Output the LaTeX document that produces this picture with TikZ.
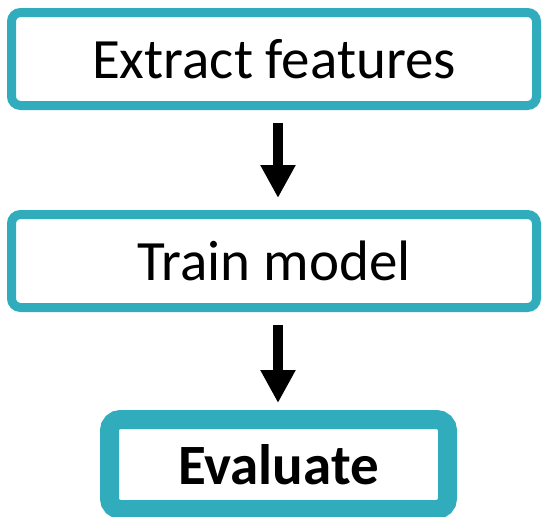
\documentclass[tikz,border=0pt]{standalone}
\usepackage{fontspec}
\setmainfont{Carlito}
\usetikzlibrary{positioning,arrows.meta}
\definecolor{boxteal}{RGB}{49,172,189}

\begin{document}
\begin{tikzpicture}[x=1pt,y=1pt,node distance=109pt,font=\fontsize{57}{68}\selectfont]
    \tikzstyle{stage}=[draw=boxteal,line width=9pt,rounded corners=9pt,minimum width=525pt,minimum height=93pt,inner sep=0pt,outer sep=0pt]
    \tikzstyle{laststage}=[draw=boxteal,line width=19pt,rounded corners=11pt,minimum width=338pt,minimum height=90pt,inner sep=0pt,outer sep=0pt,font=\fontsize{57}{68}\selectfont\bfseries]
    \tikzstyle{flow}=[-{Triangle[length=33pt,width=33pt]},line width=10pt,shorten <=17.5pt,shorten >=16.5pt]

    \useasboundingbox (0,0) rectangle (544,-517);

    \node[stage] (extract) at (274,-59) {Extract features};
    \node[stage, below=of extract] (train) {Train model};
    \node[laststage, below=112pt of train, xshift=4.5pt] (evaluate) {Evaluate};

    \draw[flow] ([xshift=4pt]extract.south) -- ([xshift=4pt]train.north);
    \draw[flow] ([xshift=4pt]train.south) -- ([xshift=4pt]train.south |- evaluate.north);
\end{tikzpicture}
\end{document}
